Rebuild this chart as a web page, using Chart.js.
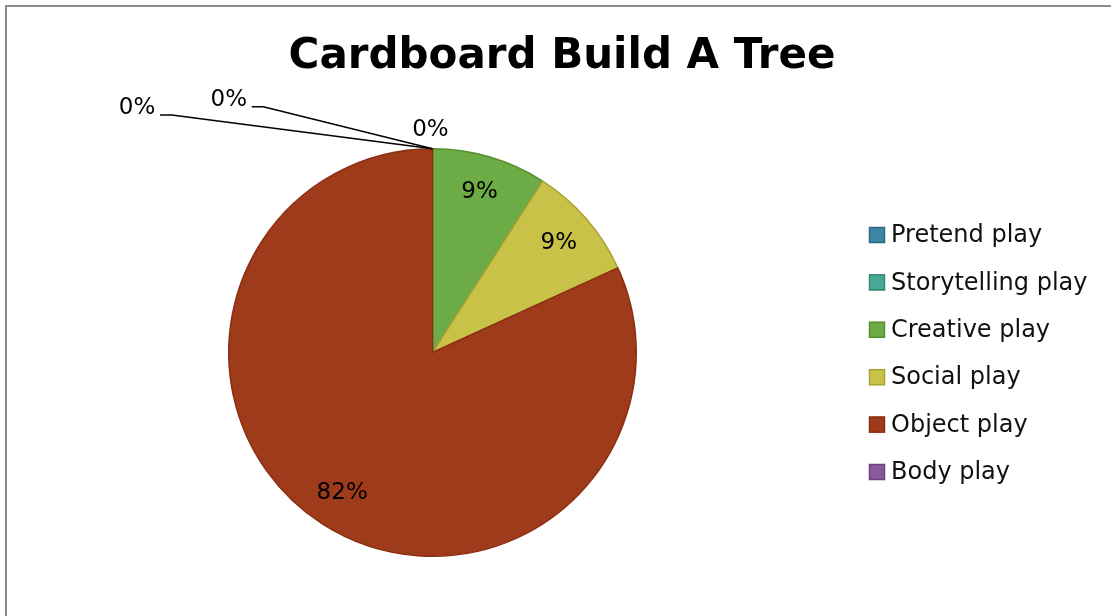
<!DOCTYPE html>
<html>
<head>
<meta charset="utf-8">
<title>Cardboard Build A Tree</title>
<script src="https://cdn.jsdelivr.net/npm/chart.js@4/dist/chart.umd.min.js"></script>
<style>
  html, body { margin: 0; padding: 0; background: #fff; }
  #wrap { position: relative; width: 1111px; height: 616px; overflow: hidden; }
  #frame {
    position: absolute; left: 5px; top: 5px; width: 1200px; height: 700px;
    border-left: 2px solid #8c8c8c; border-top: 2px solid #8c8c8c;
  }
  #chart { position: absolute; left: 0; top: 0; }
</style>
</head>
<body>
<div id="wrap">
  <div id="frame"></div>
  <canvas id="chart" width="1111" height="616"></canvas>
</div>
<script>
// ---- DATA ----
const categories = ['Pretend play', 'Storytelling play', 'Creative play', 'Social play', 'Object play', 'Body play'];
const counts = [0, 0, 1, 1, 9, 0];
const sliceColors = ['#3f86a6', '#47a993', '#6cab45', '#c9c249', '#9e3b1b', '#8a5a9c'];
const sliceEdges = ['#2e6a85', '#348874', '#56912f', '#a9a234', '#8a2f12', '#6e4282'];

// placement of the labels for empty slices: [labelX, labelY, elbowX] as fraction of radius,
// measured from the top of the pie; null means no leader line
const zeroLabelSpots = [
  [-1.45, -0.20, -1.28],
  [-1.00, -0.24, -0.83],
  null, null, null,
  [-0.01, -0.09, null]
];

const FONT = '"DejaVu Sans", sans-serif';
const total = counts.reduce((a, b) => a + b, 0);
const pct = v => Math.round(v / total * 100) + '%';

// ---- LABELS, TITLE AND LEGEND ----
const decorations = {
  id: 'decorations',
  afterDraw(chart) {
    const ctx = chart.ctx;
    const arcs = chart.getDatasetMeta(0).data;
    ctx.save();

    // title
    ctx.fillStyle = '#000';
    ctx.font = 'bold 42px ' + FONT;
    ctx.textAlign = 'center';
    ctx.textBaseline = 'middle';
    ctx.fillText('Cardboard Build A Tree', 562, 57);

    // slice percentages
    ctx.font = '23px ' + FONT;
    arcs.forEach((arc, i) => {
      const r = arc.outerRadius;
      if (counts[i] > 0) {
        const mid = (arc.startAngle + arc.endAngle) / 2;
        ctx.fillText(pct(counts[i]), arc.x + Math.cos(mid) * r * 0.82, arc.y + Math.sin(mid) * r * 0.82);
        return;
      }
      const spot = zeroLabelSpots[i];
      if (!spot) return;
      const topX = arc.x, topY = arc.y - r;
      const lx = topX + spot[0] * r, ly = topY + spot[1] * r;
      if (spot[2] !== null) {
        const ex = topX + spot[2] * r;
        const lineY = ly + 7;
        ctx.beginPath();
        ctx.moveTo(lx + 23, lineY);
        ctx.lineTo(ex, lineY);
        ctx.lineTo(topX, topY);
        ctx.strokeStyle = '#000';
        ctx.lineWidth = 1.5;
        ctx.stroke();
      }
      ctx.fillText(pct(counts[i]), lx, ly);
    });

    // legend
    ctx.textAlign = 'left';
    ctx.font = '24px ' + FONT;
    categories.forEach((name, i) => {
      const cy = 235 + i * 47.4;
      ctx.fillStyle = sliceColors[i];
      ctx.fillRect(869, cy - 8, 16, 16);
      ctx.strokeStyle = sliceEdges[i];
      ctx.lineWidth = 1.5;
      ctx.strokeRect(869.5, cy - 7.5, 15, 15);
      ctx.fillStyle = '#111';
      ctx.fillText(name, 891, cy + 1);
    });
    ctx.restore();
  }
};

new Chart(document.getElementById('chart'), {
  type: 'pie',
  data: {
    labels: categories,
    datasets: [{
      data: counts,
      backgroundColor: sliceColors,
      borderColor: sliceEdges,
      borderWidth: 1.5
    }]
  },
  options: {
    responsive: false,
    animation: false,
    layout: { padding: { left: 228, right: 474, top: 148, bottom: 59 } },
    plugins: {
      legend: { display: false },
      tooltip: { enabled: false },
      title: { display: false }
    }
  },
  plugins: [decorations]
});
</script>
</body>
</html>
